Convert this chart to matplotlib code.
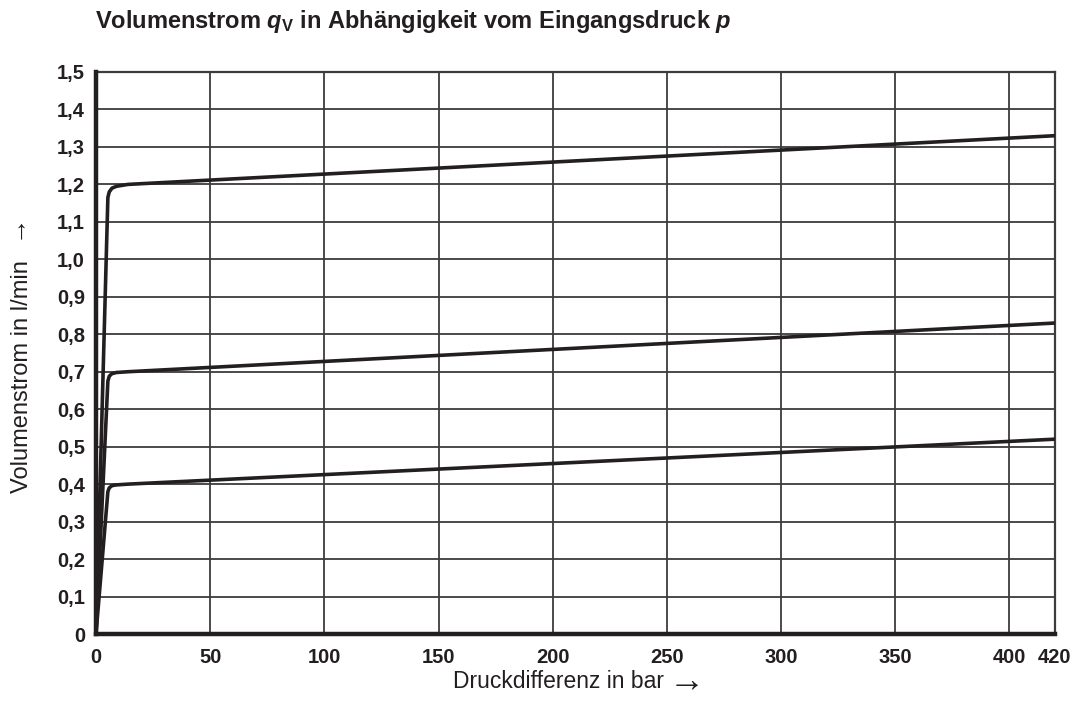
import matplotlib
matplotlib.use("Agg")
import matplotlib.pyplot as plt

plt.rcParams["mathtext.fontset"] = "custom"
plt.rcParams["mathtext.it"] = "Liberation Sans:italic:bold"
plt.rcParams["mathtext.rm"] = "Liberation Sans:bold"
plt.rcParams["mathtext.bf"] = "Liberation Sans:bold"

# ── data ─────────────────────────────────────────────────────────────────
druck = [0, 5.2, 5.8, 7, 9, 14, 420]
q_hoch = [0, 1.165, 1.18, 1.19, 1.195, 1.2, 1.33]
q_mittel = [0, 0.675, 0.688, 0.695, 0.698, 0.70, 0.83]
q_tief = [0, 0.38, 0.39, 0.396, 0.398, 0.40, 0.52]

x_ticks = [0, 50, 100, 150, 200, 250, 300, 350, 400, 420]
y_ticks = [0, 0.1, 0.2, 0.3, 0.4, 0.5, 0.6, 0.7, 0.8, 0.9, 1.0, 1.1, 1.2, 1.3, 1.4, 1.5]
y_labels = ["0"] + [f"{v:.1f}".replace(".", ",") for v in y_ticks[1:]]

W, H = 1075, 709
INK = "#231f20"
tick_font = dict(family=["Liberation Sans", "DejaVu Sans"],
                 fontweight="bold", fontsize=14.5)
label_font = dict(family=["Liberation Sans", "DejaVu Sans"], color=INK)

fig = plt.figure(figsize=(W / 100, H / 100), dpi=100)
ax = fig.add_axes([96 / W, 75 / H, 959 / W, 562 / H])

for q in (q_hoch, q_mittel, q_tief):
    ax.plot(druck, q, color=INK, lw=2.6, solid_joinstyle="round",
            solid_capstyle="round", zorder=4)

ax.set_xlim(0, 420)
ax.set_ylim(0, 1.5)
ax.set_xticks(x_ticks)
ax.set_xticklabels([str(v) for v in x_ticks], **tick_font, color=INK)
ax.set_yticks(y_ticks)
ax.set_yticklabels(y_labels, **tick_font, color=INK)
ax.tick_params(length=0, pad=8)
ax.tick_params(axis="x", pad=10)

ax.grid(True, color="#3c3c3c", lw=1.3, zorder=1)
for side in ("left", "bottom"):
    ax.spines[side].set_linewidth(3.2)
    ax.spines[side].set_color(INK)
    ax.spines[side].set_zorder(5)
for side in ("top", "right"):
    ax.spines[side].set_linewidth(1.6)
    ax.spines[side].set_color("#3c3c3c")

# x label + arrow
fig.text(453 / W, 1 - 688 / H, "Druckdifferenz in bar", ha="left", va="baseline",
         fontsize=16.5, **label_font)
fig.text(669 / W, 1 - 692 / H, "\u2192", ha="left", va="baseline",
         fontsize=26, **label_font)

# y label + arrow (rotated)
fig.text(28 / W, 1 - 493 / H, "Volumenstrom in l/min", ha="left", va="baseline",
         rotation=90, rotation_mode="anchor", fontsize=17, **label_font)
fig.text(22 / W, 1 - 239 / H, "\u2192", ha="left", va="baseline",
         rotation=90, rotation_mode="anchor", fontsize=19, **label_font)

fig.text(95 / W, 1 - 28 / H,
         r"Volumenstrom $q_\mathrm{V}$ in Abhängigkeit vom Eingangsdruck $p$",
         ha="left", va="baseline", fontsize=17, fontweight="bold",
         family=["Liberation Sans", "DejaVu Sans"], color=INK)

fig.savefig("out.png", dpi=100, facecolor="white")
